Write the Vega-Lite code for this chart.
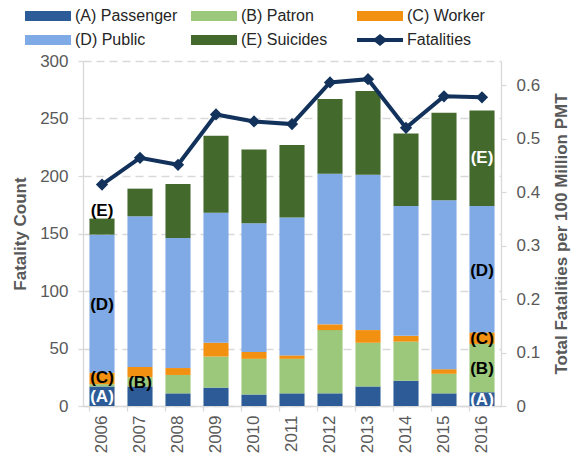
{
  "$schema": "https://vega.github.io/schema/vega-lite/v6.json",
  "width": 418,
  "height": 345,
  "autosize": {"type": "none"},
  "padding": {"left": 83, "top": 61, "right": 77, "bottom": 58},
  "background": "white",
  "config": {
    "font": "Liberation Sans",
    "view": {"stroke": null},
    "axis": {
      "labelFont": "Liberation Sans",
      "titleFont": "Liberation Sans",
      "labelColor": "#595959",
      "titleColor": "#595959",
      "domainColor": "#D9D9D9",
      "domainWidth": 1.3,
      "tickColor": "#D9D9D9",
      "tickWidth": 1.3,
      "tickSize": 5,
      "labelFontSize": 17,
      "titleFontSize": 17,
      "titleFontWeight": "bold"
    }
  },
  "datasets": {
    "bars": [
      {"year": 2006, "cat": "(A) Passenger", "n": 17},
      {"year": 2006, "cat": "(B) Patron", "n": 2},
      {"year": 2006, "cat": "(C) Worker", "n": 10},
      {"year": 2006, "cat": "(D) Public", "n": 120},
      {"year": 2006, "cat": "(E) Suicides", "n": 14},
      {"year": 2007, "cat": "(A) Passenger", "n": 17},
      {"year": 2007, "cat": "(B) Patron", "n": 8},
      {"year": 2007, "cat": "(C) Worker", "n": 9},
      {"year": 2007, "cat": "(D) Public", "n": 131},
      {"year": 2007, "cat": "(E) Suicides", "n": 24},
      {"year": 2008, "cat": "(A) Passenger", "n": 11},
      {"year": 2008, "cat": "(B) Patron", "n": 16},
      {"year": 2008, "cat": "(C) Worker", "n": 6},
      {"year": 2008, "cat": "(D) Public", "n": 113},
      {"year": 2008, "cat": "(E) Suicides", "n": 47},
      {"year": 2009, "cat": "(A) Passenger", "n": 16},
      {"year": 2009, "cat": "(B) Patron", "n": 27},
      {"year": 2009, "cat": "(C) Worker", "n": 12},
      {"year": 2009, "cat": "(D) Public", "n": 113},
      {"year": 2009, "cat": "(E) Suicides", "n": 67},
      {"year": 2010, "cat": "(A) Passenger", "n": 10},
      {"year": 2010, "cat": "(B) Patron", "n": 31},
      {"year": 2010, "cat": "(C) Worker", "n": 6},
      {"year": 2010, "cat": "(D) Public", "n": 112},
      {"year": 2010, "cat": "(E) Suicides", "n": 64},
      {"year": 2011, "cat": "(A) Passenger", "n": 11},
      {"year": 2011, "cat": "(B) Patron", "n": 30},
      {"year": 2011, "cat": "(C) Worker", "n": 3},
      {"year": 2011, "cat": "(D) Public", "n": 120},
      {"year": 2011, "cat": "(E) Suicides", "n": 63},
      {"year": 2012, "cat": "(A) Passenger", "n": 11},
      {"year": 2012, "cat": "(B) Patron", "n": 55},
      {"year": 2012, "cat": "(C) Worker", "n": 5},
      {"year": 2012, "cat": "(D) Public", "n": 131},
      {"year": 2012, "cat": "(E) Suicides", "n": 65},
      {"year": 2013, "cat": "(A) Passenger", "n": 17},
      {"year": 2013, "cat": "(B) Patron", "n": 38},
      {"year": 2013, "cat": "(C) Worker", "n": 11},
      {"year": 2013, "cat": "(D) Public", "n": 135},
      {"year": 2013, "cat": "(E) Suicides", "n": 73},
      {"year": 2014, "cat": "(A) Passenger", "n": 22},
      {"year": 2014, "cat": "(B) Patron", "n": 34},
      {"year": 2014, "cat": "(C) Worker", "n": 5},
      {"year": 2014, "cat": "(D) Public", "n": 113},
      {"year": 2014, "cat": "(E) Suicides", "n": 63},
      {"year": 2015, "cat": "(A) Passenger", "n": 11},
      {"year": 2015, "cat": "(B) Patron", "n": 17},
      {"year": 2015, "cat": "(C) Worker", "n": 4},
      {"year": 2015, "cat": "(D) Public", "n": 147},
      {"year": 2015, "cat": "(E) Suicides", "n": 76},
      {"year": 2016, "cat": "(A) Passenger", "n": 12},
      {"year": 2016, "cat": "(B) Patron", "n": 42},
      {"year": 2016, "cat": "(C) Worker", "n": 10},
      {"year": 2016, "cat": "(D) Public", "n": 110},
      {"year": 2016, "cat": "(E) Suicides", "n": 83}
    ],
    "labels": [
      {"year": 2006, "label": "(E)", "pos": 169.5},
      {"year": 2006, "label": "(D)", "pos": 87.5},
      {"year": 2006, "label": "(C)", "pos": 24.3},
      {"year": 2006, "label": "(A)", "pos": 7.4},
      {"year": 2007, "label": "(B)", "pos": 20},
      {"year": 2016, "label": "(E)", "pos": 215.7},
      {"year": 2016, "label": "(D)", "pos": 117.8},
      {"year": 2016, "label": "(C)", "pos": 58.3},
      {"year": 2016, "label": "(B)", "pos": 32},
      {"year": 2016, "label": "(A)", "pos": 5.6}
    ],
    "rate": [
      {"year": 2006, "rate": 0.414},
      {"year": 2007, "rate": 0.464},
      {"year": 2008, "rate": 0.451},
      {"year": 2009, "rate": 0.545},
      {"year": 2010, "rate": 0.532},
      {"year": 2011, "rate": 0.527},
      {"year": 2012, "rate": 0.605},
      {"year": 2013, "rate": 0.611},
      {"year": 2014, "rate": 0.52},
      {"year": 2015, "rate": 0.579},
      {"year": 2016, "rate": 0.577}
    ]
  },
  "layer": [
    {
      "data": {"name": "bars"},
      "mark": {"type": "bar"},
      "encoding": {
        "x": {
          "field": "year",
          "type": "ordinal",
          "scale": {"paddingInner": 0.34, "paddingOuter": 0.17},
          "axis": {
            "title": null,
            "labelAngle": -90,
            "labelPadding": 4,
            "bandPosition": 0,
            "grid": false
          }
        },
        "y": {
          "field": "n",
          "type": "quantitative",
          "stack": "zero",
          "scale": {"domain": [0, 300]},
          "axis": {
            "title": "Fatality Count",
            "values": [0, 50, 100, 150, 200, 250, 300],
            "grid": true,
            "gridColor": "#D9D9D9",
            "gridDash": [8, 5],
            "gridWidth": 1.3,
            "labelPadding": 10,
            "titlePadding": 10
          }
        },
        "color": {
          "field": "cat",
          "type": "nominal",
          "scale": {
            "domain": ["(A) Passenger", "(B) Patron", "(C) Worker", "(D) Public", "(E) Suicides", "Fatalities"],
            "range": ["#2C5B97", "#9BC87A", "#F29011", "#7FAAE5", "#44692D", "#12325C"]
          },
          "legend": {
            "orient": "none",
            "direction": "horizontal",
            "legendX": -61,
            "legendY": -53,
            "columns": 3,
            "gridAlign": "all",
            "columnPadding": 10,
            "rowPadding": 8,
            "padding": 0,
            "title": null,
            "labelFont": "Liberation Sans",
            "labelFontSize": 16,
            "labelColor": "#262626",
            "labelLimit": 300,
            "labelOffset": 37,
            "symbolSize": 100,
            "symbolStrokeWidth": 0,
            "symbolType": "M-1,-1H8.2V1H-1Z",
            "encode": {
              "symbols": {
                "update": {
                  "shape": {"signal": "datum.value === 'Fatalities' ? 'M-1,-0.4H2.6L3.6,-1.2L4.6,-0.4H8.2V0.4H4.6L3.6,1.2L2.6,0.4H-1Z' : 'M-1,-1H8.2V1H-1Z'"},
                  "fill": {"scale": "color", "field": "value"},
                  "stroke": {"value": "transparent"},
                  "opacity": {"value": 1}
                }
              }
            }
          }
        },
        "order": {"field": "cat", "sort": "ascending"}
      }
    },
    {
      "data": {"name": "labels"},
      "mark": {"type": "text", "fontWeight": "bold", "fontSize": 17, "font": "Liberation Sans"},
      "encoding": {
        "x": {"field": "year", "type": "ordinal"},
        "y": {"field": "pos", "type": "quantitative", "scale": {"domain": [0, 300]}, "axis": null},
        "text": {"field": "label"},
        "color": {
          "condition": {"test": "datum.label === '(A)' || (datum.label === '(E)' && datum.year === 2016)", "value": "white"},
          "value": "black"
        }
      }
    },
    {
      "data": {"name": "rate"},
      "mark": {"type": "line", "strokeWidth": 4, "point": {"shape": "diamond", "size": 150, "filled": true}},
      "encoding": {
        "x": {"field": "year", "type": "ordinal"},
        "y": {
          "field": "rate",
          "type": "quantitative",
          "scale": {"domain": [0, 0.645]},
          "axis": {
            "orient": "right",
            "title": "Total Fatalities per 100 Million PMT",
            "values": [0, 0.1, 0.2, 0.3, 0.4, 0.5, 0.6],
            "format": "~g",
            "grid": false,
            "labelPadding": 10,
            "titleAngle": 270,
            "titlePadding": 31
          }
        },
        "color": {"datum": "Fatalities"}
      }
    }
  ],
  "resolve": {"scale": {"y": "independent"}}
}
